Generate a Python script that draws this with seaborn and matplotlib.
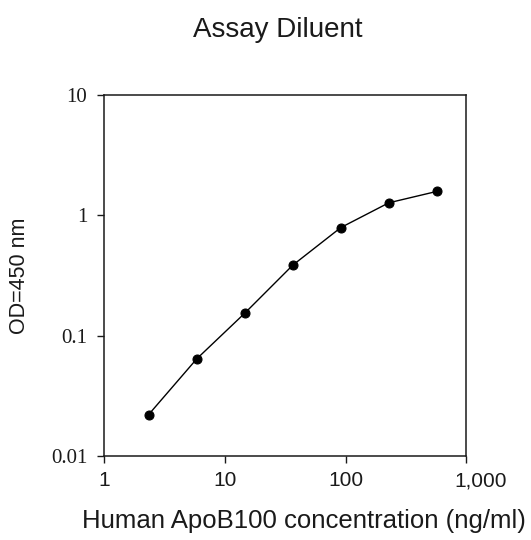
import numpy as np
import pandas as pd
import matplotlib
matplotlib.use('Agg')
import matplotlib.pyplot as plt
import matplotlib.transforms as mtransforms
import seaborn as sns

# standard curve values
conc = [2.34, 5.86, 14.6, 36.6, 91.4, 228.5, 571.4]
od = [0.022, 0.064, 0.153, 0.385, 0.79, 1.27, 1.58]

x_ticks = [1, 10, 100, 1000]
x_tick_labels = ['1', '10', '100', '1,000']
y_ticks = [0.01, 0.1, 1, 10]
y_tick_labels = ['0.01', '0.1', '1', '10']

df = pd.DataFrame({'conc': conc, 'od': od})

sns.set_style('ticks')
plt.rcParams['font.family'] = ['Liberation Sans', 'DejaVu Sans']
ink = '#1a1a1a'

fig = plt.figure(figsize=(5.31, 5.40), dpi=100)
ax = fig.add_axes([0.196, 0.156, 0.682, 0.668])

sns.lineplot(data=df, x='conc', y='od', ax=ax, color='black', linewidth=1.0,
             marker='o', markersize=6.5, markeredgecolor='black')

ax.set_xscale('log')
ax.set_yscale('log')
ax.set_xlim(1, 1000)
ax.set_ylim(0.01, 10)

ax.set_xticks(x_ticks)
ax.set_xticklabels(x_tick_labels, fontsize=15, color=ink)
ax.set_yticks(y_ticks)
ax.set_yticklabels(y_tick_labels, fontsize=15, color=ink, family=['Liberation Serif'])
ax.minorticks_off()
ax.tick_params(axis='both', direction='out', length=5, width=1, color=ink)
ax.tick_params(axis='x', pad=6)
ax.tick_params(axis='y', pad=7)

# the "1,000" label sits a little right of its tick in the original
last = ax.get_xticklabels()[-1]
last.set_transform(last.get_transform() +
                   mtransforms.ScaledTranslation(14 / 100, 0, fig.dpi_scale_trans))

for s in ax.spines.values():
    s.set_visible(True)
    s.set_color(ink)
    s.set_linewidth(1.1)

ax.set_xlabel('Human ApoB100 concentration (ng/ml)', fontsize=18.5, color=ink)
ax.xaxis.set_label_coords(0.552, -0.148)
ax.set_ylabel('OD=450 nm', fontsize=15.5, color=ink)
ax.yaxis.set_label_coords(-0.205, 0.5)
ax.set_title('Assay Diluent', fontsize=20, color=ink, x=0.48, y=1.16, pad=0)

fig.savefig('out.png', dpi=100, facecolor='white')
